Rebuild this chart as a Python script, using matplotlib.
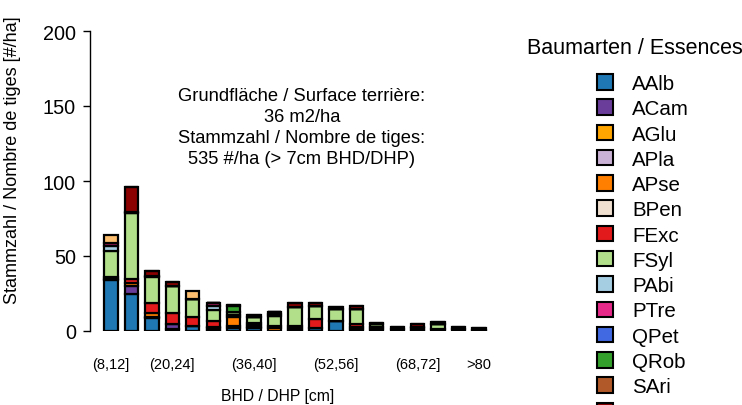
import numpy as np
import matplotlib
matplotlib.use('Agg')
import matplotlib.pyplot as plt
from matplotlib.patches import Patch

plt.rcParams['font.family'] = ['Liberation Sans', 'DejaVu Sans']

classes = ['(8,12]', '(12,16]', '(16,20]', '(20,24]', '(24,28]', '(28,32]', '(32,36]',
           '(36,40]', '(40,44]', '(44,48]', '(48,52]', '(52,56]', '(56,60]', '(60,64]',
           '(64,68]', '(68,72]', '(72,76]', '(76,80]', '>80']
shown_labels = {'(8,12]', '(20,24]', '(36,40]', '(52,56]', '(68,72]', '>80'}

species = ['AAlb', 'ACam', 'AGlu', 'APla', 'APse', 'BPen', 'FExc', 'FSyl', 'PAbi',
           'PTre', 'QPet', 'QRob', 'SAri', 'SAuc', 'TCor']
colors = ['#1f78b4', '#6a3d9a', '#ffa500', '#cab2d6', '#ff7f00', '#f0e0d0', '#e31a1c',
          '#b2df8a', '#a6cee3', '#e7298a', '#4169e1', '#33a02c', '#b15928', '#8b0000',
          '#fdbf6f']

# stems per ha, one list per species, one value per diameter class
AAlb = [34, 24.5, 9, 1.5, 3.5, 1, 2, 2, 0, 1, 2, 6.5, 1.5, 1.5, 1.5, 1, 1.5, 1.2, 1]
ACam = [1, 5.5, 0.5, 3.5, 0, 1, 1.5, 0.5, 0, 1, 0, 0, 1.5, 0, 0, 1, 0, 0, 0]
AGlu = [0] * 19
APla = [0] * 19
APse = [0, 2, 2.5, 0, 0, 1, 6, 1.2, 2, 0, 0, 0, 0, 0, 0, 0, 0, 0, 0]
BPen = [0] * 19
FExc = [1, 2.5, 6.5, 7, 6, 3.5, 1.5, 1.5, 1.5, 1.5, 6, 0.5, 1.5, 1, 0, 1, 0, 0, 0]
FSyl = [17.5, 44, 17.5, 18, 12, 7.5, 1.5, 4, 6.5, 12.5, 8.5, 8, 10, 2, 0, 0, 3, 0, 0]
PAbi = [3.5, 0, 1, 0, 0, 3, 0, 0, 0, 0, 0, 0, 0, 0, 0, 0, 0, 0, 0]
PTre = [1.5, 1, 0, 0, 0, 2, 0, 0, 1.5, 0, 0, 0, 0, 0, 0, 0, 0, 0, 0]
QPet = [0, 0, 0, 0, 0, 0, 0, 0, 1.5, 0, 0, 0, 0, 0, 0, 0, 0, 0, 0]
QRob = [0, 0, 0, 0, 0, 0, 4, 0, 0, 0, 0, 0, 0, 0, 0, 0, 0, 0, 0]
SAri = [0] * 19
SAuc = [0, 16.5, 3, 2.5, 0, 0, 1, 1.8, 0, 2.5, 2, 1, 2, 1, 1.5, 2, 1.5, 1.3, 1]
TCor = [5.5, 0, 0, 0, 5.5, 0, 0, 0, 0, 0, 0, 0, 0, 0, 0, 0, 0, 0, 0]

values = [AAlb, ACam, AGlu, APla, APse, BPen, FExc, FSyl, PAbi, PTre, QPet, QRob,
          SAri, SAuc, TCor]

fig = plt.figure(figsize=(7.42, 4.06), dpi=100)
ax = fig.add_axes([90 / 742, 74 / 406, 410 / 742, 300 / 406])

x = np.arange(len(classes))
bottom = np.zeros(len(classes))
for name, col, v in zip(species, colors, values):
    v = np.array(v, dtype=float)
    if v.sum() == 0:
        continue
    ax.bar(x, v, 0.65, bottom=bottom, color=col, edgecolor='black', linewidth=1.6)
    bottom += v

ax.set_xlim(-1.03, 19.03)
ax.set_ylim(0, 200)
for s in ['top', 'right', 'bottom']:
    ax.spines[s].set_visible(False)
ax.spines['left'].set_bounds(0, 200)
ax.spines['left'].set_linewidth(1.0)
ax.set_yticks([0, 50, 100, 150, 200])
ax.tick_params(axis='y', length=5, width=1, labelsize=14.3, pad=5)
ax.set_xticks(x)
ax.set_xticklabels([c if c in shown_labels else '' for c in classes], fontsize=10.5)
ax.tick_params(axis='x', length=0, pad=19)

fig.text(13 / 742, 1 - 160 / 406, 'Stammzahl / Nombre de tiges [#/ha]', rotation=90,
         ha='center', va='center', fontsize=13)
fig.text(278 / 742, 1 - 397 / 406, 'BHD / DHP [cm]', ha='center', va='center', fontsize=11.3)

fig.text(302 / 742, 1 - 128 / 406,
         'Grundfläche / Surface terrière:\n36 m2/ha\nStammzahl / Nombre de tiges:\n535 #/ha (> 7cm BHD/DHP)',
         ha='center', va='center', fontsize=13.2, linespacing=1.3)

fig.text(527 / 742, 1 - 49 / 406, 'Baumarten / Essences', ha='left', va='center',
         fontsize=15.5)
handles = [Patch(facecolor=c, edgecolor='black', linewidth=1.5) for c in colors]
fig.legend(handles, species, loc='upper left',
           bbox_to_anchor=(597 / 742, 1 - 75 / 406), frameon=False, fontsize=14.8,
           handlelength=0.78, handleheight=0.78, labelspacing=0.305,
           handletextpad=0.92, borderaxespad=0, borderpad=0)

fig.savefig('out.png', dpi=100)
